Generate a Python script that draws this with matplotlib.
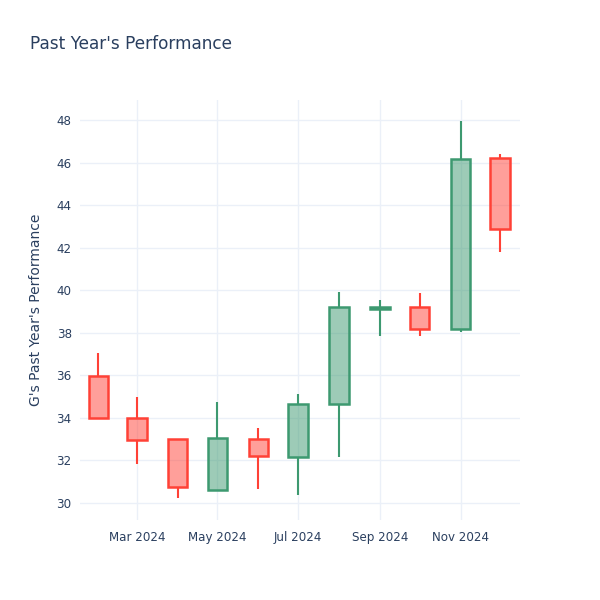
import matplotlib
matplotlib.use("Agg")
import matplotlib.pyplot as plt
import matplotlib.dates as mdates
import numpy as np
from datetime import datetime

# monthly candles, Feb 2024 - Dec 2024
months = ["2024-02-01", "2024-03-01", "2024-04-01", "2024-05-01", "2024-06-01",
          "2024-07-01", "2024-08-01", "2024-09-01", "2024-10-01", "2024-11-01",
          "2024-12-01"]
opens = [35.95, 34.0, 33.0, 30.6, 33.0, 32.15, 34.65, 39.1, 39.2, 38.2, 46.2]
highs = [37.05, 34.98, 33.0, 34.75, 33.52, 35.12, 39.9, 39.55, 39.87, 47.95, 46.4]
lows = [34.0, 31.83, 30.23, 30.55, 30.65, 30.37, 32.15, 37.85, 37.85, 38.05, 41.8]
closes = [34.0, 32.95, 30.75, 33.05, 32.2, 34.65, 39.2, 39.2, 38.2, 46.15, 42.9]

tick_dates = ["2024-03-01", "2024-05-01", "2024-07-01", "2024-09-01", "2024-11-01"]

up_color = "#3D9970"
down_color = "#FF4136"
text_color = "#2a3f5f"
grid_color = "#ebf0f8"

dates = [datetime.strptime(d, "%Y-%m-%d") for d in months]
x = mdates.date2num(dates)

fig = plt.figure(figsize=(6, 6), dpi=100)
ax = fig.add_axes([80 / 600, 80 / 600, 440 / 600, 420 / 600])

for xi, o, h, l, c in zip(x, opens, highs, lows, closes):
    col = up_color if c >= o else down_color
    top = max(o, c)
    bot = min(o, c)
    ax.vlines(xi, top, h, color=col, linewidth=1.5, zorder=3)
    ax.vlines(xi, l, bot, color=col, linewidth=1.5, zorder=3)
    rgba = matplotlib.colors.to_rgba(col, 0.5)
    ax.bar(xi, top - bot, bottom=bot, width=14.7, facecolor=rgba,
           edgecolor=col, linewidth=1.8, zorder=4)

ax.set_xlim(mdates.date2num(datetime(2024, 1, 18)), mdates.date2num(datetime(2024, 12, 16)))
ax.set_ylim(29.2, 48.94)

ax.set_xticks(mdates.date2num([datetime.strptime(d, "%Y-%m-%d") for d in tick_dates]))
ax.xaxis.set_major_formatter(mdates.DateFormatter("%b %Y"))
ax.set_yticks(np.arange(30, 49, 2))

ax.grid(True, color=grid_color, linewidth=1, zorder=0)
ax.set_axisbelow(True)
for s in ax.spines.values():
    s.set_visible(False)
ax.tick_params(axis="both", length=0, labelsize=8.6, labelcolor=text_color)
ax.tick_params(axis="y", pad=6)
ax.tick_params(axis="x", pad=8)

ax.set_ylabel("G's Past Year's Performance", fontsize=10, color=text_color, labelpad=10)
fig.text(30 / 600, 1 - 44 / 600, "Past Year's Performance", fontsize=12.2,
         color=text_color, va="center", ha="left")

fig.savefig("out.png", dpi=100, facecolor="white")
